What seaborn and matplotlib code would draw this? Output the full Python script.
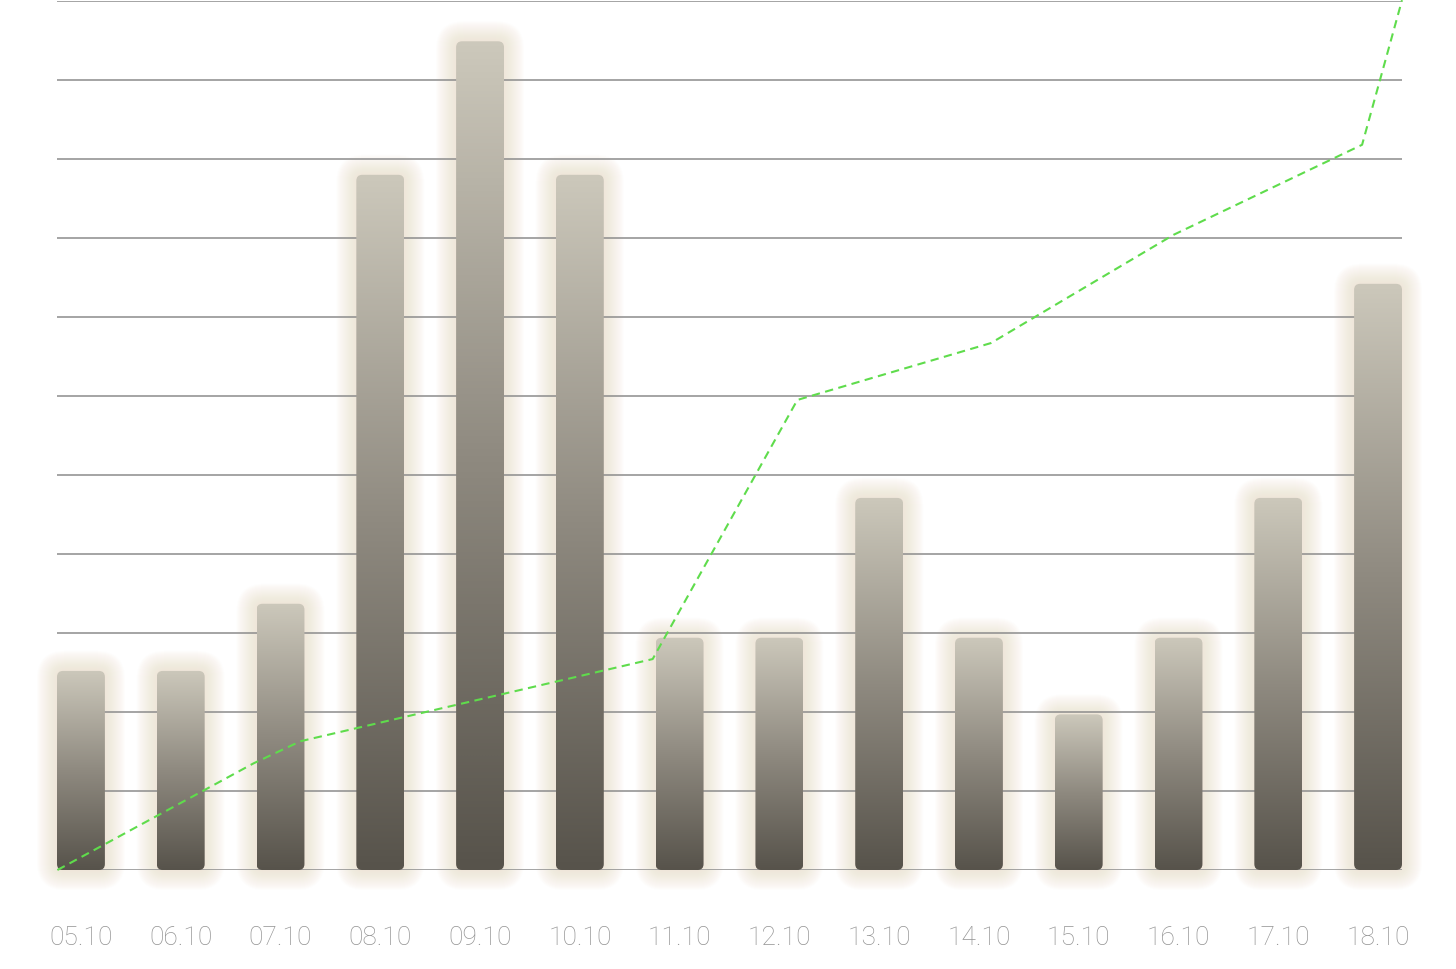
import numpy as np
import pandas as pd
import matplotlib
matplotlib.use("Agg")
import matplotlib.pyplot as plt
import seaborn as sns
from matplotlib.patches import FancyBboxPatch

sns.set_theme(style="white")
plt.rcParams["font.family"] = ["Roboto", "DejaVu Sans"]

# data (y in grid steps)
dates = ["05.10", "06.10", "07.10", "08.10", "09.10", "10.10", "11.10",
         "12.10", "13.10", "14.10", "15.10", "16.10", "17.10", "18.10"]
bar_values = [2.52, 2.52, 3.37, 8.80, 10.49, 8.80, 2.94,
              2.94, 4.71, 2.94, 1.97, 2.94, 4.71, 7.42]
trend_pos = [-0.236, 1.73, 2.20, 5.73, 7.18, 9.12, 10.95, 12.84, 13.24]
trend_values = [0.0, 1.35, 1.63, 2.67, 5.95, 6.67, 8.04, 9.18, 11.01]

fig = plt.figure(figsize=(14.56, 9.69), dpi=100)
ax = fig.add_axes([57 / 1456, 99 / 969, 1345 / 1456, 869 / 969])

df = pd.DataFrame({"date": dates, "value": bar_values})
sns.barplot(data=df, x="date", y="value", width=0.48, ax=ax)

ax.set_xlim(-0.24, 13.24)
ax.set_ylim(0, 11)
ax.set_yticks(range(12))
ax.set_yticklabels([])
ax.grid(axis="y", color="#8c8c8c", linewidth=1.1, zorder=1)
ax.set_axisbelow(True)
for s in ax.spines.values():
    s.set_visible(False)
ax.set_xlabel("")
ax.set_ylabel("")
ax.tick_params(axis="x", length=0, pad=40, labelsize=19, labelcolor="#939393")
for lab in ax.get_xticklabels():
    lab.set_fontweight("light")

# pixel size of one data unit, to keep corners round
fig.canvas.draw()
px_x = ax.transData.transform((1, 0))[0] - ax.transData.transform((0, 0))[0]
px_y = ax.transData.transform((0, 1))[1] - ax.transData.transform((0, 0))[1]
aspect = px_x / px_y

grad = np.linspace(0, 1, 256).reshape(-1, 1)
cmap = matplotlib.colors.LinearSegmentedColormap.from_list("bar", ["#57534b", "#8f8a80", "#ccc8bb"])

for p in list(ax.patches):
    x, w, h = p.get_x(), p.get_width(), p.get_height()
    p.set_visible(False)
    # soft glow
    for k in range(20):
        pad = (1 + k * 1.0) / px_x
        glow = FancyBboxPatch((x, 0), w, h, boxstyle=f"round,pad={pad},rounding_size={pad + 8 / px_x}",
                              mutation_aspect=aspect, facecolor="#efdfc9", edgecolor="none",
                              alpha=0.045, zorder=0.5, clip_on=False)
        ax.add_patch(glow)
    body = FancyBboxPatch((x, 0), w, h, boxstyle=f"round,pad=0,rounding_size={6 / px_x}",
                          mutation_aspect=aspect, facecolor="none", edgecolor="none", zorder=2)
    ax.add_patch(body)
    im = ax.imshow(grad, cmap=cmap, extent=(x, x + w, 0, h), origin="lower",
                   aspect="auto", zorder=2, interpolation="bilinear")
    im.set_clip_path(body)

ax.set_xlim(-0.24, 13.24)
ax.set_ylim(0, 11)

sns.lineplot(x=trend_pos, y=trend_values, sort=False, estimator=None, ax=ax,
             color="#5fdc4c", linewidth=1.5, dashes=False, zorder=3)
ax.lines[-1].set_dashes((4, 2.6))
ax.lines[-1].set_clip_on(False)

fig.savefig("out.png", dpi=100, facecolor="white")
